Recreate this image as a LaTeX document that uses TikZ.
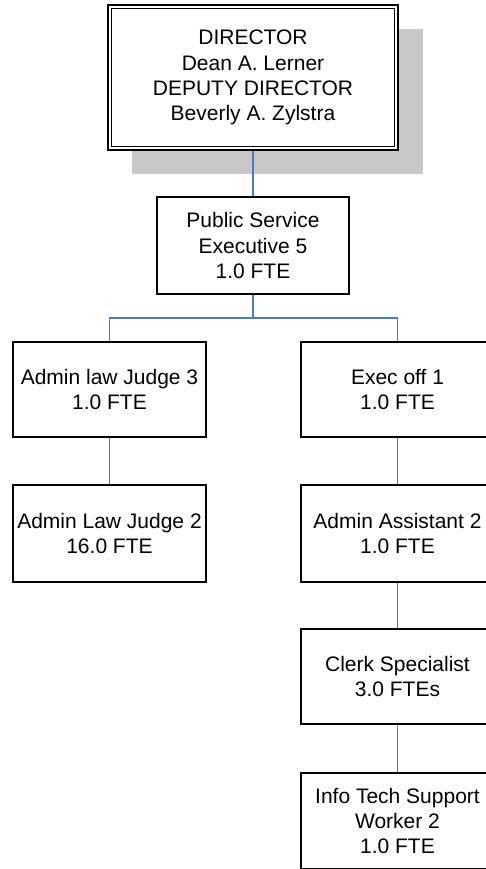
\documentclass[tikz,border=0pt]{standalone}
\usepackage{fontspec}
\setmainfont{Liberation Sans}
\usetikzlibrary{calc}
\definecolor{linkblue}{HTML}{4A7EBB}
\definecolor{shadowgray}{HTML}{C8C8C8}
\begin{document}
\begin{tikzpicture}[x=1pt,y=1pt,
  box/.style={draw=black,line width=1.6pt,fill=white,rectangle,align=center,inner sep=0pt,
    font=\fontsize{21}{25.3}\selectfont},
  link/.style={draw=linkblue,line width=1.6pt}]
\useasboundingbox (0,0) rectangle (485,-869);
% shadow
\node[fill=shadowgray,minimum width=291,minimum height=145,inner sep=0pt] (shadow) at (277.5,-101.5) {};
% director
\node[box,line width=2.6pt,minimum width=290,minimum height=145] (dir) at (253,-77.5)
  {DIRECTOR\\Dean A. Lerner\\DEPUTY DIRECTOR\\Beverly A. Zylstra};
\draw[line width=1.3pt] ($(dir.north west)+(4.5,-4.5)$) rectangle ($(dir.south east)+(-4.5,4.5)$);
% second level
\node[box,minimum width=192,minimum height=97] (pse) at (253,-245.5)
  {Public Service\\Executive 5\\1.0 FTE};
% left column
\node[box,minimum width=193,minimum height=95] (alj3) at (109.5,-389.5)
  {Admin law Judge 3\\1.0 FTE};
\node[box,minimum width=193,minimum height=97] (alj2) at (109.5,-533.5)
  {Admin Law Judge 2\\16.0 FTE};
% right column
\node[box,minimum width=193,minimum height=95] (exec) at (397.5,-389.5)
  {Exec off 1\\1.0 FTE};
\node[box,minimum width=193,minimum height=97] (aa2) at (397.5,-533.5)
  {Admin Assistant 2\\1.0 FTE};
\node[box,minimum width=193,minimum height=95] (clerk) at (397.5,-676.5)
  {Clerk Specialist\\3.0 FTEs};
\node[box,minimum width=193,minimum height=96] (info) at (397.5,-821)
  {Info Tech Support\\Worker 2\\1.0 FTE};
% connectors
\coordinate (busy) at (0,-318);
\draw[link] (dir.south) -- (pse.north);
\draw[link] (pse.south) -- (pse.south |- busy) -| (alj3.north);
\draw[link] (pse.south |- busy) -| (exec.north);
\draw[link] (alj3.south) -- (alj2.north);
\draw[link] (exec.south) -- (aa2.north);
\draw[link] (aa2.south) -- (clerk.north);
\draw[link] (clerk.south) -- (info.north);
\end{tikzpicture}
\end{document}
